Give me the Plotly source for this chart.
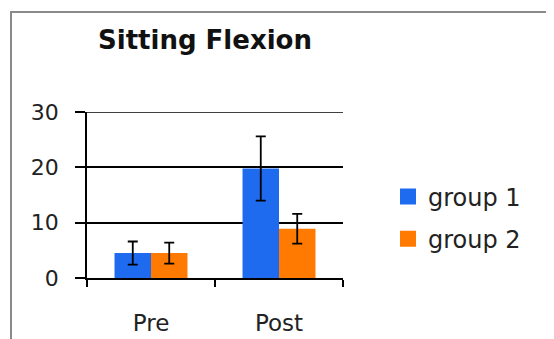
import plotly.graph_objects as go

categories = ["Pre", "Post"]
group1 = [4.5, 19.8]
group1_err = [2.1, 5.8]
group2 = [4.5, 8.9]
group2_err = [1.9, 2.7]
series_names = ["group 1", "group 2"]
colors = ["#1F6BF0", "#FF7A00"]
y_ticks = [0, 10, 20, 30]

W, H = 554, 339
# page is rendered with an 8px body offset; coordinates below are paper coords
L, R, T, B = 79, 219, 104, 69
PW, PH = W - L - R, H - T - B

fig = go.Figure()
for name, vals, errs, col in zip(series_names, [group1, group2], [group1_err, group2_err], colors):
    fig.add_trace(go.Bar(
        x=categories, y=vals, name=name, marker=dict(color=col, line=dict(width=0)),
        error_y=dict(type="data", array=errs, color="black", thickness=1.8, width=5),
        showlegend=False,
    ))
for i, (name, col) in enumerate(zip(series_names, colors)):
    fig.add_trace(go.Scatter(
        x=[None], y=[None], mode="markers", name=name, legendgroup=name,
        marker=dict(symbol="square", size=19, color=col),
    ))

fig.update_layout(
    width=W, height=H,
    margin=dict(l=L, r=R, t=T, b=B, pad=0, autoexpand=False),
    paper_bgcolor="white", plot_bgcolor="white",
    barmode="group", bargap=0.43, bargroupgap=0,
    title=dict(text="<b>Sitting Flexion</b>", x=197 / W, xanchor="center",
               y=1 - 32 / H, yanchor="middle",
               font=dict(family="DejaVu Sans", size=26, color="#111")),
    legend=dict(xref="container", yref="container",
                x=380 / W, xanchor="left", y=1 - 210 / H, yanchor="middle",
                font=dict(family="DejaVu Sans", size=24, color="#222"),
                traceorder="grouped", tracegroupgap=8,
                bgcolor="rgba(0,0,0,0)", itemsizing="trace"),
    xaxis=dict(
        showline=True, linecolor="black", linewidth=1.5,
        ticks="outside", tickson="boundaries", ticklen=7, tickwidth=1.5, tickcolor="black",
        tickfont=dict(family="DejaVu Sans", size=23, color="#222"),
        ticklabelstandoff=24, showgrid=False, automargin=False,
    ),
    yaxis=dict(
        range=[0, 30], tickvals=y_ticks, showline=True, linecolor="black", linewidth=1.5,
        ticks="outside", ticklen=10, tickwidth=1.5, tickcolor="black",
        showgrid=True, gridcolor="black", gridwidth=1.5, zeroline=False,
        tickfont=dict(family="DejaVu Sans", size=22, color="#222"),
        ticklabelstandoff=12, automargin=False,
    ),
    shapes=[
        dict(type="rect", xref="paper", yref="paper",
             x0=-(L - 3) / PW, x1=(W + 20 - L) / PW,
             y0=-(B + 20) / PH, y1=1 + (T - 4) / PH,
             line=dict(color="#8a8a8a", width=2), layer="below"),
        dict(type="line", xref="paper", yref="y", x0=0, x1=1,
             y0=y_ticks[-1], y1=y_ticks[-1], line=dict(color="black", width=1.5)),
    ],
)

fig.write_html("out.html")
